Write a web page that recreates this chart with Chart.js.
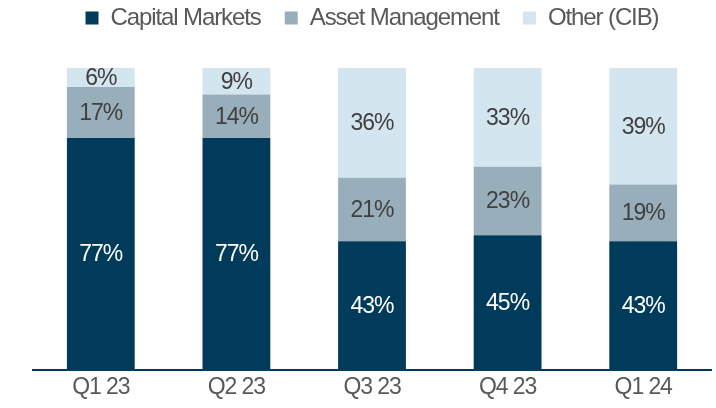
<!DOCTYPE html>
<html>
<head>
<meta charset="utf-8">
<script src="https://cdn.jsdelivr.net/npm/chart.js@4"></script>
<style>
  html, body { margin: 0; padding: 0; background: #fff; }
  #wrap { width: 716px; height: 408px; }
</style>
</head>
<body>
<div id="wrap"><canvas id="chart"></canvas></div>
<script>
const quarters = ["Q1 23", "Q2 23", "Q3 23", "Q4 23", "Q1 24"];
const capitalMarkets = [76.8, 76.8, 42.6, 44.6, 42.6];
const assetManagement = [16.9, 14.4, 21.1, 22.7, 18.8];
const otherCib = [6.3, 8.8, 36.3, 32.7, 38.6];

const NAVY = "#003B5C";
const GREY_BLUE = "#99AEBB";
const LIGHT_BLUE = "#D3E5EE";
const TEXT = "#595959";

const FONT = "'Liberation Sans', Arial, Helvetica, sans-serif";
const SPACING = "-1.1px";

// tight letter spacing like the original deck font
const tightText = {
  id: "tightText",
  beforeUpdate(chart) { chart.ctx.letterSpacing = SPACING; },
  beforeDraw(chart) { chart.ctx.letterSpacing = SPACING; }
};

// fixed legend band above the bars, legend nudged up to the top edge
const legendGap = {
  id: "legendGap",
  beforeInit(chart) {
    const fit = chart.legend.fit;
    chart.legend.fit = function () {
      fit.bind(chart.legend)();
      this.height = 68;
    };
  },
  afterLayout(chart) {
    chart.legend.top -= 18;
    chart.legend.bottom -= 18;
  }
};

// percentage labels centred in every segment
const segmentLabels = {
  id: "segmentLabels",
  afterDatasetsDraw(chart) {
    const ctx = chart.ctx;
    ctx.save();
    ctx.letterSpacing = "-1px";
    ctx.font = "23px " + FONT;
    ctx.textAlign = "center";
    ctx.textBaseline = "middle";
    chart.data.datasets.forEach((ds, i) => {
      chart.getDatasetMeta(i).data.forEach((bar, j) => {
        const { x, y, base } = bar.getProps(["x", "y", "base"], true);
        ctx.fillStyle = i === 0 ? "#FFFFFF" : "#404040";
        ctx.fillText(Math.round(ds.data[j]) + "%", x, (y + base) / 2 + 1);
      });
    });
    ctx.restore();
  }
};

new Chart(document.getElementById("chart"), {
  type: "bar",
  data: {
    labels: quarters,
    datasets: [
      { label: "Capital Markets", data: capitalMarkets, backgroundColor: NAVY },
      { label: "Asset Management", data: assetManagement, backgroundColor: GREY_BLUE },
      { label: "Other (CIB)", data: otherCib, backgroundColor: LIGHT_BLUE }
    ]
  },
  options: {
    responsive: true,
    maintainAspectRatio: false,
    animation: false,
    categoryPercentage: 1,
    barPercentage: 0.5,
    layout: { padding: { left: 33, right: 5, top: 0, bottom: 2.4 } },
    plugins: {
      legend: {
        position: "top",
        labels: {
          boxWidth: 13,
          boxHeight: 13,
          padding: 24,
          color: TEXT,
          font: { family: FONT, size: 24 }
        }
      },
      tooltip: { enabled: false }
    },
    scales: {
      x: {
        stacked: true,
        grid: { display: false, drawTicks: false },
        border: { display: true, color: NAVY, width: 2 },
        ticks: { color: TEXT, padding: 4, font: { family: FONT, size: 23 } }
      },
      y: {
        stacked: true,
        display: false,
        min: 0,
        max: 100
      }
    }
  },
  plugins: [tightText, legendGap, segmentLabels]
});
</script>
</body>
</html>
